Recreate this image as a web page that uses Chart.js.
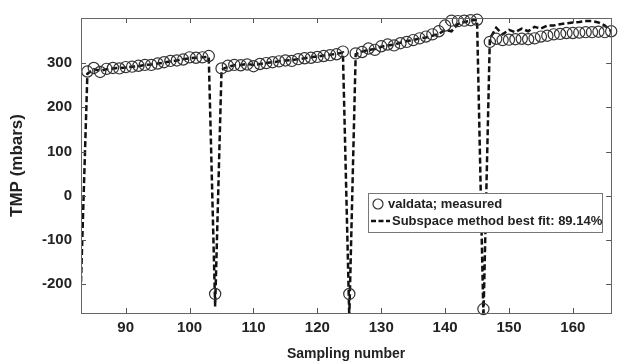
<!DOCTYPE html>
<html>
<head>
<meta charset="utf-8">
<script src="https://cdn.jsdelivr.net/npm/chart.js@4/dist/chart.umd.min.js"></script>
<style>
  body { margin: 0; background: #fff; }
  #grafico { display: block; }
</style>
</head>
<body>
<canvas id="grafico" width="618" height="361"></canvas>
<script>
// Datos
const muestras = [83, 84, 85, 86, 87, 88, 89, 90, 91, 92, 93, 94, 95, 96, 97, 98, 99, 100, 101, 102, 103,
    104, 105, 106, 107, 108, 109, 110, 111, 112, 113, 114, 115, 116, 117, 118, 119, 120, 121, 122, 123, 124,
    125, 126, 127, 128, 129, 130, 131, 132, 133, 134, 135, 136, 137, 138, 139, 140, 141, 142, 143, 144, 145,
    146, 147, 148, 149, 150, 151, 152, 153, 154, 155, 156, 157, 158, 159, 160, 161, 162, 163, 164, 165, 166];

const medido = [null,
    281, 289, 280, 287, 289, 288, 291, 292, 294, 296, 296, 299, 302, 305, 306, 308, 313, 312, 313, 316,
    -222,
    288, 294, 296, 295, 297, 293, 298, 300, 302, 304, 306, 305, 309, 311, 312, 314, 316, 318, 320, 326,
    -222,
    322, 325, 333, 330, 338, 342, 340, 345, 348, 352, 356, 360, 365, 372, 385, 396, 395, 396, 397, 398,
    -256,
    348, 355, 352, 353, 354, 355, 354, 356, 360, 362, 365, 366, 368, 368, 369, 370, 370, 371, 370, 372];

const modelo = [-195,
    276, 286, 283, 286, 288, 289, 290, 292, 293, 296, 297, 299, 301, 304, 306, 309, 311, 312, 313, 314,
    -250,
    285, 292, 295, 296, 298, 296, 298, 300, 302, 304, 306, 307, 309, 311, 313, 315, 317, 319, 321, 324,
    -275,
    320, 326, 330, 332, 337, 340, 342, 346, 350, 352, 356, 358, 362, 366, 375, 372, 388, 393, 396, 398,
    -275,
    355, 380, 365, 375, 370, 378, 372, 382, 378, 385, 385, 388, 390, 392, 393, 395, 395, 392, 385, 372];

const ticksX = [90, 100, 110, 120, 130, 140, 150, 160];
const ticksY = [-200, -100, 0, 100, 200, 300];

const etiquetas = {
    medido: 'valdata; measured',
    modelo: 'Subspace method best fit: 89.14%',
    ejeX: 'Sampling number',
    ejeY: 'TMP (mbars)'
};

const fuente = '"Liberation Sans", Arial, sans-serif';

// Marco y marcas hacia dentro (estilo MATLAB)
const marcoPlugin = {
    id: 'marco',
    afterDatasetsDraw(chart) {
        const { ctx, chartArea: a, scales } = chart;
        const largo = 5;
        ctx.save();
        ctx.strokeStyle = '#555';
        ctx.lineWidth = 1;
        ctx.beginPath();
        ticksX.forEach(v => {
            const x = Math.round(scales.x.getPixelForValue(v)) + 0.5;
            ctx.moveTo(x, a.bottom); ctx.lineTo(x, a.bottom - largo);
            ctx.moveTo(x, a.top); ctx.lineTo(x, a.top + largo);
        });
        ticksY.forEach(v => {
            const y = Math.round(scales.y.getPixelForValue(v)) + 0.5;
            ctx.moveTo(a.left, y); ctx.lineTo(a.left + largo, y);
            ctx.moveTo(a.right, y); ctx.lineTo(a.right - largo, y);
        });
        ctx.stroke();
        ctx.strokeStyle = '#666';
        ctx.strokeRect(Math.round(a.left) + 0.5, Math.round(a.top) + 0.5,
            Math.round(a.right - a.left), Math.round(a.bottom - a.top));

        // Leyenda
        const lx = 368, ly = 193, lw = 234, lh = 39;
        ctx.fillStyle = '#fff';
        ctx.fillRect(lx, ly, lw, lh);
        ctx.strokeStyle = '#777';
        ctx.strokeRect(lx + 0.5, ly + 0.5, lw, lh);
        const ds = chart.data.datasets;
        ctx.fillStyle = '#222';
        ctx.font = 'bold 13px ' + fuente;
        ctx.textBaseline = 'middle';
        ctx.beginPath();
        ctx.strokeStyle = '#333';
        ctx.lineWidth = 1.2;
        ctx.arc(378, 204, 5, 0, Math.PI * 2);
        ctx.stroke();
        ctx.fillText(ds[0].label, 388, 204);
        ctx.beginPath();
        ctx.setLineDash([5, 2.5]);
        ctx.lineWidth = 2.5;
        ctx.strokeStyle = '#111';
        ctx.moveTo(371, 221); ctx.lineTo(390, 221);
        ctx.stroke();
        ctx.setLineDash([]);
        ctx.fillText(ds[1].label, 392, 221);
        ctx.restore();
    }
};

const ctx = document.getElementById('grafico').getContext('2d');
new Chart(ctx, {
    type: 'line',
    data: {
        datasets: [
            {
                label: etiquetas.medido,
                data: muestras.map((s, i) => ({ x: s, y: medido[i] })),
                showLine: false,
                pointStyle: 'circle',
                pointRadius: 5.6,
                borderColor: '#333',
                borderWidth: 1.2,
                backgroundColor: 'rgba(0,0,0,0)',
                clip: 8
            },
            {
                label: etiquetas.modelo,
                data: muestras.map((s, i) => ({ x: s, y: modelo[i] })),
                pointRadius: 0,
                borderColor: '#111',
                borderWidth: 2.5,
                borderDash: [6, 3],
                tension: 0,
                fill: false
            }
        ]
    },
    options: {
        responsive: false,
        animation: false,
        layout: { padding: { left: 0, right: 3, top: 15, bottom: 0 } },
        plugins: {
            legend: { display: false },
            tooltip: { enabled: false }
        },
        scales: {
            x: {
                type: 'linear',
                min: 83,
                max: 166,
                afterBuildTicks: s => { s.ticks = ticksX.map(v => ({ value: v })); },
                afterFit: s => { s.height = 48; },
                grid: { display: false, drawTicks: false },
                border: { display: false },
                ticks: { color: '#222', padding: 6, font: { family: fuente, size: 15, weight: 'bold' } },
                title: {
                    display: true,
                    text: etiquetas.ejeX,
                    color: '#222',
                    padding: { top: 0, bottom: 0 },
                    font: { family: fuente, size: 14, weight: 'bold', lineHeight: 1 }
                }
            },
            y: {
                min: -265,
                max: 402,
                afterBuildTicks: s => { s.ticks = ticksY.map(v => ({ value: v })); },
                afterFit: s => { s.width = 81; },
                grid: { display: false, drawTicks: false },
                border: { display: false },
                ticks: { color: '#222', padding: 9, font: { family: fuente, size: 15, weight: 'bold' } },
                title: {
                    display: true,
                    text: etiquetas.ejeY,
                    color: '#222',
                    padding: { top: 9, bottom: 0 },
                    font: { family: fuente, size: 17, weight: 'bold', lineHeight: 1 }
                }
            }
        }
    },
    plugins: [marcoPlugin]
});
</script>
</body>
</html>
